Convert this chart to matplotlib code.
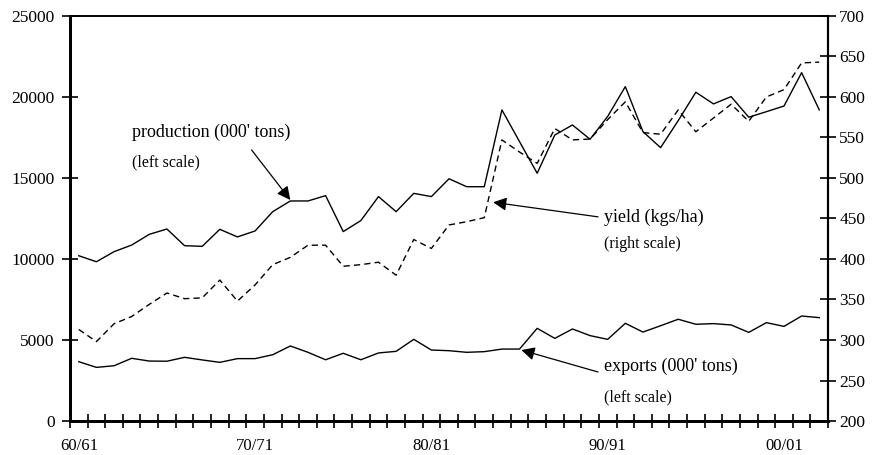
"""Production, yield and exports chart"""

import matplotlib
matplotlib.use('Agg')
import matplotlib.pyplot as plt

plt.rcParams['font.family'] = ['Liberation Serif', 'DejaVu Serif']

seasons = ['60/61', '70/71', '80/81', '90/91', '00/01']

# 000' tons, left scale, one value per season from 60/61 to 02/03
production = [10200, 9830, 10450, 10860, 11520, 11850, 10820, 10780, 11830, 11360,
              11730, 12920, 13580, 13580, 13910, 11690, 12370, 13850, 12920, 14050,
              13850, 14950, 14460, 14460, 19200, 17240, 15290, 17650, 18270, 17390,
              18800, 20640, 17860, 16870, 18540, 20290, 19570, 20020, 18750, 19090,
              19440, 21500, 19200]

exports = [3660, 3310, 3410, 3870, 3700, 3690, 3930, 3770, 3620, 3850,
           3850, 4090, 4630, 4240, 3780, 4180, 3780, 4200, 4300, 5040,
           4380, 4340, 4240, 4280, 4440, 4440, 5720, 5100, 5680, 5270,
           5040, 6030, 5490, 5880, 6280, 5970, 6010, 5930, 5470, 6070,
           5840, 6480, 6380]

# kgs/ha, right scale
yield_kg = [313, 298, 320, 329, 344, 358, 351, 352, 374, 348,
            368, 393, 402, 417, 417, 391, 393, 396, 380, 424,
            413, 442, 446, 451, 547, 532, 518, 561, 547, 548,
            572, 594, 556, 554, 584, 557, 574, 591, 570, 600,
            609, 642, 643]

n = len(production)
x = list(range(n))

fig = plt.figure(figsize=(8.8, 4.55), dpi=100)
ax = fig.add_axes([0.0795, 0.0747, 0.8615, 0.8903])
ax2 = ax.twinx()

ax.plot(x, production, color='black', lw=1.0)
ax.plot(x, exports, color='black', lw=1.0)
ax2.plot(x, yield_kg, color='black', lw=1.0, ls=(0, (4.5, 3)))

ax.set_xlim(-0.5, n - 0.5)
ax.set_ylim(0, 25000)
ax2.set_ylim(200, 700)
ax.set_yticks(range(0, 25001, 5000))
ax2.set_yticks(range(200, 701, 50))

# tick marks between seasons, labels under the season itself
ax.set_xticks([i - 0.5 for i in range(n + 1)])
ax.set_xticklabels([])
ax.set_xticks([seasons.index(s) * 10 for s in seasons], minor=True)
ax.set_xticklabels(seasons, minor=True)
ax.tick_params(axis='x', which='major', direction='inout', length=10, width=1.2)
ax.tick_params(axis='x', which='minor', length=0, pad=12, labelsize=12)
ax.tick_params(axis='y', direction='inout', length=12, width=1.2, labelsize=12.5, pad=5)
ax2.tick_params(axis='y', direction='inout', length=12, width=1.2, labelsize=12.5, pad=2)

for a in (ax, ax2):
    a.spines['left'].set_linewidth(2)
    a.spines['bottom'].set_linewidth(2)
    a.spines['right'].set_linewidth(1.5)
    a.spines['top'].set_linewidth(1.2)

arrow = dict(arrowstyle='-|>', color='black', lw=0.9, mutation_scale=20, shrinkA=0, shrinkB=0)

ax.text(3.0, 17840, "production (000' tons)", fontsize=13, va='center')
ax.text(3.0, 15930, '(left scale)', fontsize=11.5, va='center')
ax.annotate('', xy=(12.0, 13640), xytext=(9.8, 16730), arrowprops=arrow)

ax2.text(29.8, 451, 'yield (kgs/ha)', fontsize=13, va='center')
ax2.text(29.8, 419, '(right scale)', fontsize=11.5, va='center')
ax2.annotate('', xy=(23.5, 470), xytext=(29.45, 452), arrowprops=arrow)

ax.text(29.8, 3400, "exports (000' tons)", fontsize=13, va='center')
ax.text(29.8, 1470, '(left scale)', fontsize=11.5, va='center')
ax.annotate('', xy=(25.1, 4380), xytext=(29.45, 3025), arrowprops=arrow)

plt.savefig('out.png', dpi=100)
